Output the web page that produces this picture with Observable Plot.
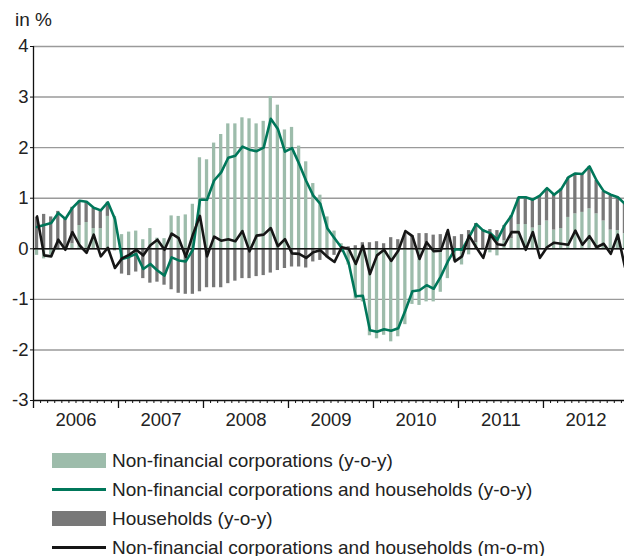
<!DOCTYPE html>
<html><head><meta charset="utf-8">
<script src="https://cdn.jsdelivr.net/npm/d3@7"></script>
<script src="https://cdn.jsdelivr.net/npm/@observablehq/plot@0.6"></script>
<style>
body{margin:0;background:#fff;overflow:hidden;font-family:"Liberation Sans",Arial,sans-serif;}
#wrap{position:relative;width:624px;height:556px;overflow:hidden;}
#unit{position:absolute;left:15px;top:9px;font-size:19px;color:#222;}
#legend{position:absolute;left:52px;top:446px;}
.row{display:flex;align-items:center;height:29px;font-size:19px;color:#222;white-space:nowrap;}
.sw{width:54px;height:15px;margin-right:6px;flex:none;}
.ln{width:54px;height:3px;margin-right:6px;flex:none;}
</style></head><body>
<div id="wrap"><div id="chart"></div><div id="unit">in %</div><div id="legend"></div></div>
<script>
// Monthly values, Jan 2006 – Dec 2012
const nfc = [
  -0.13,-0.2,-0.12,-0.03,0.0,0.1,0.46,0.52,0.4,0.4,0.64,0.64,
  0.28,0.33,0.35,0.18,0.4,0.21,0.2,0.65,0.64,0.67,0.88,1.8,
  1.76,2.09,2.26,2.47,2.47,2.59,2.57,2.47,2.52,3.01,2.84,2.35,
  2.4,2.03,1.72,1.29,1.06,0.63,0.35,0.1,-0.32,-1.0,-1.05,-1.72,
  -1.78,-1.71,-1.84,-1.74,-1.5,-1.1,-1.12,-1.05,-1.05,-0.86,-0.59,-0.25,
  -0.32,-0.12,0.12,-0.02,-0.08,-0.14,0.16,0.2,0.48,0.48,0.41,0.46,
  0.55,0.37,0.4,0.62,0.69,0.72,0.79,0.69,0.55,0.37,0.36,0.3
];
const hh = [
  0.62,0.68,0.63,0.74,0.6,0.72,0.48,0.4,0.4,0.37,0.28,-0.04,
  -0.5,-0.53,-0.46,-0.59,-0.68,-0.66,-0.72,-0.81,-0.88,-0.9,-0.9,-0.85,
  -0.77,-0.77,-0.77,-0.69,-0.64,-0.59,-0.59,-0.55,-0.53,-0.48,-0.43,-0.39,
  -0.36,-0.36,-0.38,-0.26,-0.23,-0.18,-0.13,-0.07,0.04,0.06,0.12,0.12,
  0.14,0.1,0.22,0.18,0.28,0.26,0.3,0.3,0.27,0.28,0.32,0.24,
  0.28,0.36,0.38,0.38,0.38,0.36,0.3,0.45,0.52,0.52,0.55,0.58,
  0.63,0.7,0.78,0.78,0.8,0.76,0.83,0.66,0.58,0.7,0.66,0.6
];
const totalYoY = [
  0.43,0.47,0.51,0.71,0.59,0.81,0.95,0.93,0.81,0.76,0.92,0.59,
  -0.2,-0.16,-0.1,-0.4,-0.3,-0.43,-0.53,-0.17,-0.23,-0.25,-0.02,0.97,
  0.97,1.35,1.51,1.8,1.84,2.02,1.96,1.93,2.0,2.57,2.37,1.92,
  1.99,1.68,1.34,1.05,0.89,0.4,0.21,0.02,-0.28,-0.94,-0.93,-1.61,
  -1.64,-1.59,-1.62,-1.57,-1.22,-0.84,-0.82,-0.72,-0.79,-0.55,-0.25,-0.01,
  -0.02,0.23,0.49,0.36,0.31,0.18,0.46,0.66,1.02,1.02,0.97,1.05,
  1.2,1.07,1.18,1.41,1.49,1.48,1.63,1.35,1.14,1.07,1.02,0.89
];
const totalMoM = [
  0.64,-0.13,-0.15,0.18,-0.02,0.33,0.07,-0.08,0.28,-0.15,0.02,-0.38,
  -0.19,-0.12,-0.02,-0.13,0.07,0.18,-0.02,0.3,0.21,-0.16,0.28,0.65,
  -0.15,0.24,0.16,0.19,0.15,0.35,-0.05,0.26,0.28,0.41,0.05,0.19,
  -0.09,-0.1,-0.18,-0.07,-0.03,-0.16,-0.26,0.03,0.0,-0.3,0.06,-0.5,
  -0.13,-0.02,-0.24,-0.04,0.35,0.25,-0.2,0.13,-0.05,-0.04,0.37,-0.25,
  -0.15,0.26,0.03,-0.18,0.28,0.09,0.07,0.33,0.33,-0.02,0.33,-0.18,
  0.03,0.12,0.1,0.08,0.36,0.08,0.25,0.03,0.1,-0.1,0.28,-0.36
];
const years = ["2006","2007","2008","2009","2010","2011","2012"];
const yTicks = [-3,-2,-1,0,1,2,3,4];
const seriesNames = [
  "Non-financial corporations (y-o-y)",
  "Non-financial corporations and households (y-o-y)",
  "Households (y-o-y)",
  "Non-financial corporations and households (m-o-m)"
];

const C_NFC = "#9dbcab", C_HH = "#787878", C_TOT = "#00775a", C_MOM = "#161616";

const idx = d3.range(nfc.length);
const bars = [];
idx.forEach(i => { bars.push({i, s: "nfc", v: nfc[i]}); bars.push({i, s: "hh", v: hh[i]}); });

const chart = Plot.plot({
  width: 624, height: 432,
  marginLeft: 33, marginRight: 0, marginTop: 46, marginBottom: 32,
  style: {fontFamily: "Liberation Sans, Arial, sans-serif", fontSize: "18.5px", color: "#222", background: "transparent"},
  x: {type: "linear", domain: [0, 83.44]},
  y: {domain: [-3, 4]},
  color: {domain: ["nfc","hh"], range: [C_NFC, C_HH]},
  marks: [
    Plot.ruleY(yTicks.filter(t => t > -3), {stroke: "#9a9a9a", strokeWidth: 1.4}),
    Plot.rectY(bars, Plot.stackY({x1: d => d.i, x2: d => d.i + 1, y: "v", fill: "s", insetLeft: 1.9, insetRight: 1.9, clip: true})),
    Plot.ruleY([0], {stroke: "#111", strokeWidth: 1.5}),
    Plot.line(idx, {x: i => i + 0.5, y: i => totalYoY[i], stroke: C_TOT, strokeWidth: 2.6, clip: true}),
    Plot.line(idx, {x: i => i + 0.5, y: i => totalMoM[i], stroke: C_MOM, strokeWidth: 2.6, clip: true}),
    Plot.ruleY([-3], {stroke: "#111", strokeWidth: 1.3}),
    Plot.ruleX([0], {y1: -3, y2: 4, stroke: "#111", strokeWidth: 1.3}),
    Plot.axisY({ticks: yTicks, tickSize: 3, tickPadding: 2, tickFormat: d => String(d), label: null, stroke: "#111"}),
    Plot.axisX({ticks: idx, tickSize: 3, tickFormat: () => "", label: null, stroke: "#111"}),
    Plot.axisX({ticks: years.map((y, k) => 12 * k), tickSize: 8, tickFormat: () => "", label: null, stroke: "#111", strokeWidth: 1.3}),
    Plot.axisX({ticks: years.map((y, k) => 12 * k + 6), tickSize: 0, tickPadding: 12, tickFormat: (d, k) => years[k], label: null})
  ]
});
document.getElementById("chart").appendChild(chart);

const legendItems = [
  {name: seriesNames[0], kind: "sw", color: C_NFC},
  {name: seriesNames[1], kind: "ln", color: C_TOT},
  {name: seriesNames[2], kind: "sw", color: C_HH},
  {name: seriesNames[3], kind: "ln", color: C_MOM}
];
const lg = document.getElementById("legend");
legendItems.forEach(it => {
  const row = document.createElement("div"); row.className = "row";
  const s = document.createElement("div"); s.className = it.kind; s.style.background = it.color;
  const t = document.createElement("span"); t.textContent = it.name;
  row.appendChild(s); row.appendChild(t); lg.appendChild(row);
});
</script>
</body></html>
